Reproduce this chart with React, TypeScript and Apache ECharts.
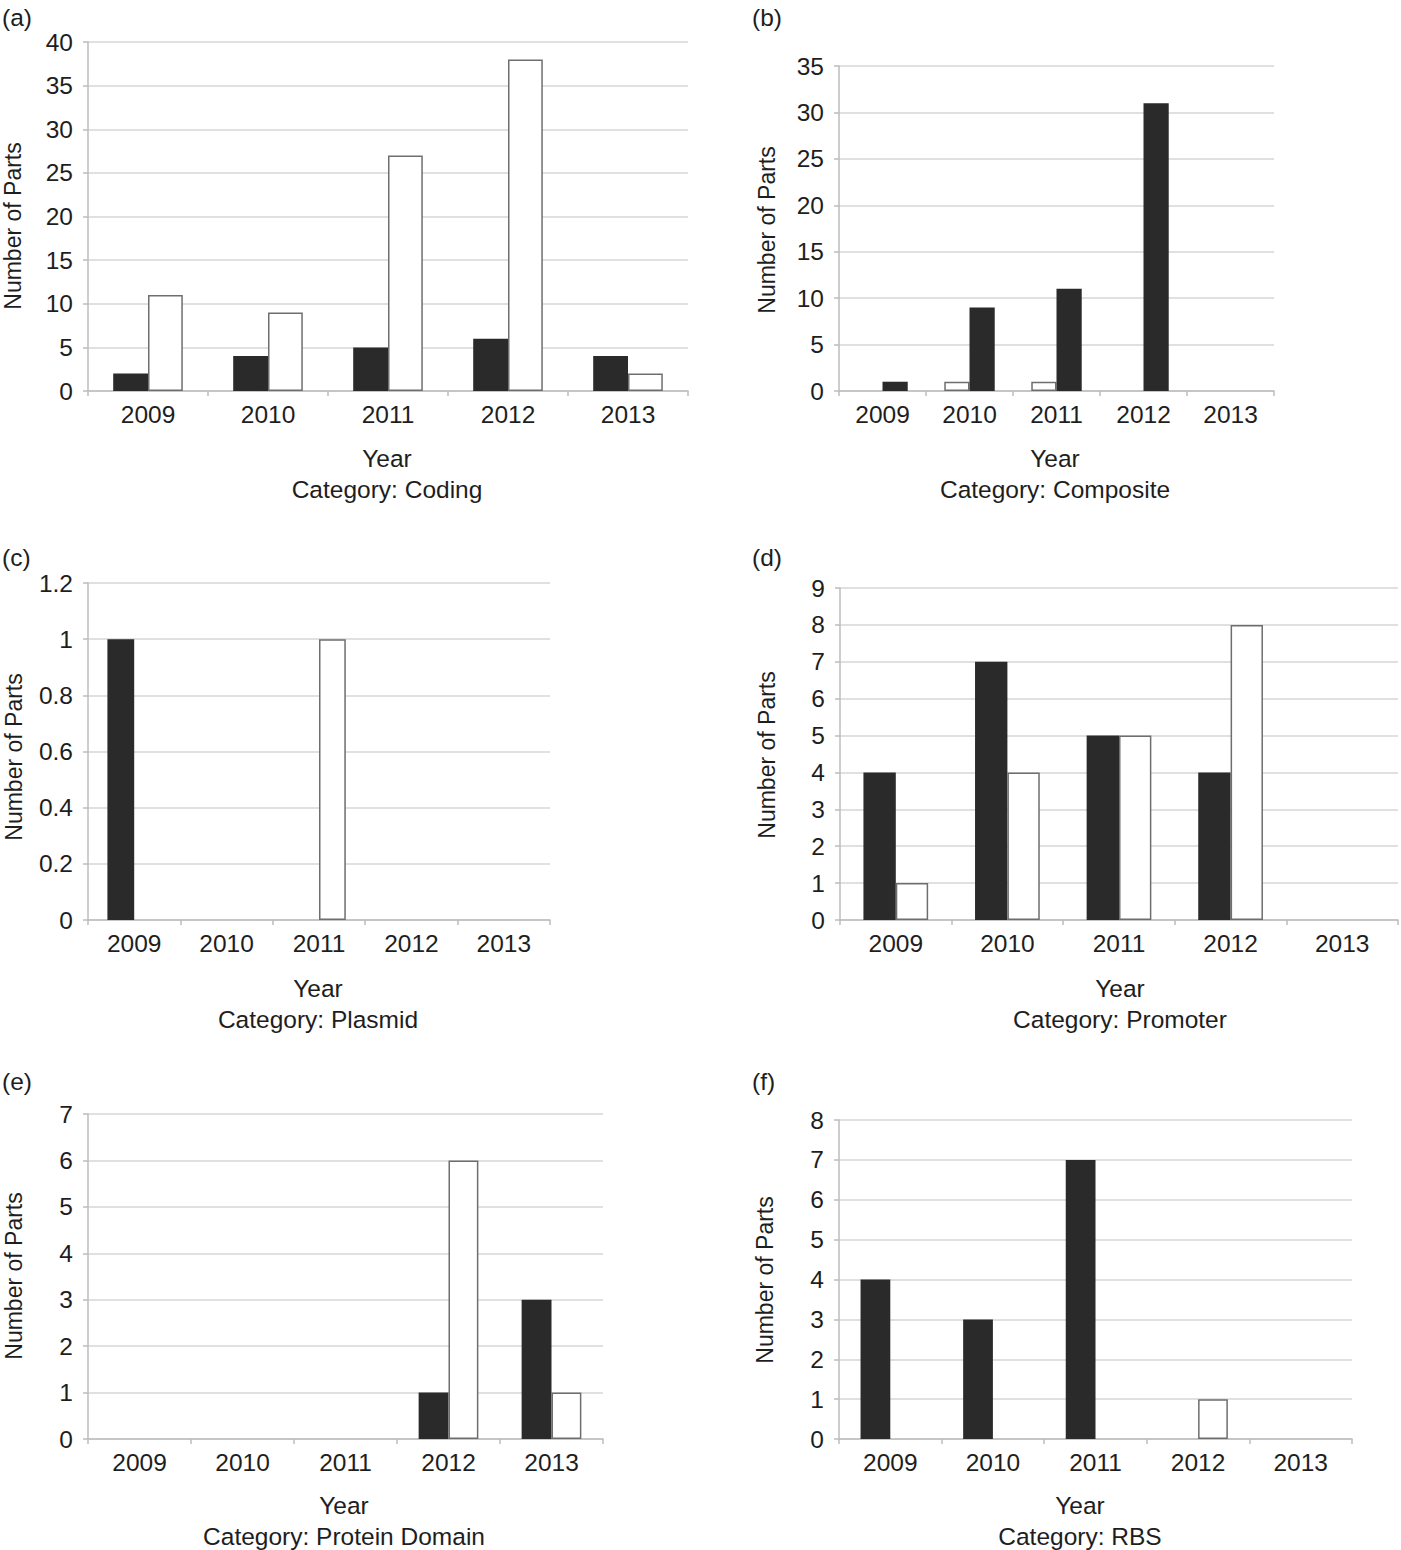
import React, { useEffect, useRef } from "react";
import * as echarts from "echarts";

const years = ["2009", "2010", "2011", "2012", "2013"];

const codingDark = [2, 4, 5, 6, 4];
const codingWhite = [11, 9, 27, 38, 2];
const compositeWhite = [0, 1, 1, 0, 0];
const compositeDark = [1, 9, 11, 31, 0];
const plasmidDark = [1, 0, 0, 0, 0];
const plasmidWhite = [0, 0, 1, 0, 0];
const promoterDark = [4, 7, 5, 4, 0];
const promoterWhite = [1, 4, 5, 8, 0];
const proteinDark = [0, 0, 0, 1, 3];
const proteinWhite = [0, 0, 0, 6, 1];
const rbsDark = [4, 3, 7, 0, 0];
const rbsWhite = [0, 0, 0, 1, 0];

const yMax = [40, 35, 1.2, 9, 7, 8];
const yStep = [5, 5, 0.2, 1, 1, 1];
const panelLetters = ["(a)", "(b)", "(c)", "(d)", "(e)", "(f)"];
const categoryNames = ["Coding", "Composite", "Plasmid", "Promoter", "Protein Domain", "RBS"];

// series per panel, in drawing order: [values, kind]
const panelSeries: [number[], string][][] = [
  [[codingDark, "dark"], [codingWhite, "white"]],
  [[compositeWhite, "white"], [compositeDark, "dark"]],
  [[plasmidDark, "dark"], [plasmidWhite, "white"]],
  [[promoterDark, "dark"], [promoterWhite, "white"]],
  [[proteinDark, "dark"], [proteinWhite, "white"]],
  [[rbsDark, "dark"], [rbsWhite, "white"]],
];

// layout (pixels)
const grids = [
  { left: 88, top: 42, width: 600, height: 349 },
  { left: 839, top: 66, width: 435, height: 325 },
  { left: 88, top: 583, width: 462, height: 337 },
  { left: 840, top: 588, width: 558, height: 332 },
  { left: 88, top: 1114, width: 515, height: 325 },
  { left: 839, top: 1120, width: 513, height: 319 },
];
const letterPos = [[2, 17], [752, 17], [2, 557], [752, 557], [2, 1081], [752, 1081]];
const yNamePos = [[13, 226], [767, 230], [14, 757], [767, 755], [14, 1276], [765, 1280]];
const xNamePos = [[387, 458], [1055, 458], [318, 988], [1120, 988], [344, 1505], [1080, 1505]];

const FONT = "Liberation Sans, Arial, sans-serif";
const FS = 24.5;
const FSV = 23;
const TXT = "#1e1e1e";
const AXIS = "#bdbdbd";
const GRIDC = "#d6d6d6";

export default function App() {
  const ref = useRef<HTMLDivElement>(null);
  useEffect(() => {
    if (!ref.current) return;
    const chart = echarts.init(ref.current, undefined, { renderer: "svg" });

    const xAxis: any[] = [];
    const yAxis: any[] = [];
    const series: any[] = [];
    const graphic: any[] = [];

    grids.forEach((g, i) => {
      xAxis.push({
        type: "category",
        gridIndex: i,
        data: years,
        axisLine: { show: true, lineStyle: { color: AXIS, width: 1.5 } },
        axisTick: { show: true, alignWithLabel: false, length: 5, lineStyle: { color: AXIS, width: 1.5 } },
        axisLabel: { fontFamily: FONT, fontSize: FS, color: TXT, margin: 11 },
        splitLine: { show: false },
      });
      yAxis.push({
        type: "value",
        gridIndex: i,
        min: 0,
        max: yMax[i],
        interval: yStep[i],
        axisLine: { show: true, lineStyle: { color: AXIS, width: 1.5 } },
        axisTick: { show: true, length: 5, lineStyle: { color: AXIS, width: 1.5 } },
        axisLabel: { fontFamily: FONT, fontSize: FS, color: TXT, margin: 15 },
        splitLine: { show: true, lineStyle: { color: GRIDC, width: 1.5 } },
      });
      panelSeries[i].forEach(([vals, kind]) => {
        series.push({
          type: "bar",
          xAxisIndex: i,
          yAxisIndex: i,
          data: vals.map((v) => (v === 0 ? null : v)),
          barWidth: "29%",
          barGap: "0%",
          itemStyle:
            kind === "dark"
              ? { color: "#2a2a2a" }
              : { color: "#ffffff", borderColor: "#6e6e6e", borderWidth: 1.5 },
        });
      });
      graphic.push({
        type: "text",
        x: letterPos[i][0],
        y: letterPos[i][1],
        style: { text: panelLetters[i], font: `${FS}px ${FONT}`, fill: TXT, textAlign: "left", textVerticalAlign: "middle" },
      });
      graphic.push({
        type: "text",
        x: yNamePos[i][0],
        y: yNamePos[i][1],
        rotation: Math.PI / 2,
        style: { text: "Number of Parts", font: `${FSV}px ${FONT}`, fill: TXT, textAlign: "center", textVerticalAlign: "middle" },
      });
      graphic.push({
        type: "text",
        x: xNamePos[i][0],
        y: xNamePos[i][1],
        style: { text: "Year", font: `${FS}px ${FONT}`, fill: TXT, textAlign: "center", textVerticalAlign: "middle" },
      });
      graphic.push({
        type: "text",
        x: xNamePos[i][0],
        y: xNamePos[i][1] + 31,
        style: { text: "Category: " + categoryNames[i], font: `${FS}px ${FONT}`, fill: TXT, textAlign: "center", textVerticalAlign: "middle" },
      });
    });

    chart.setOption({
      animation: false,
      backgroundColor: "#ffffff",
      grid: grids.map((g) => ({ ...g, containLabel: false })),
      xAxis,
      yAxis,
      series,
      graphic,
    });
    return () => chart.dispose();
  }, []);

  return (
    <div
      ref={ref}
      style={{ position: "absolute", left: 0, top: 0, width: 1401, height: 1550 }}
    />
  );
}
